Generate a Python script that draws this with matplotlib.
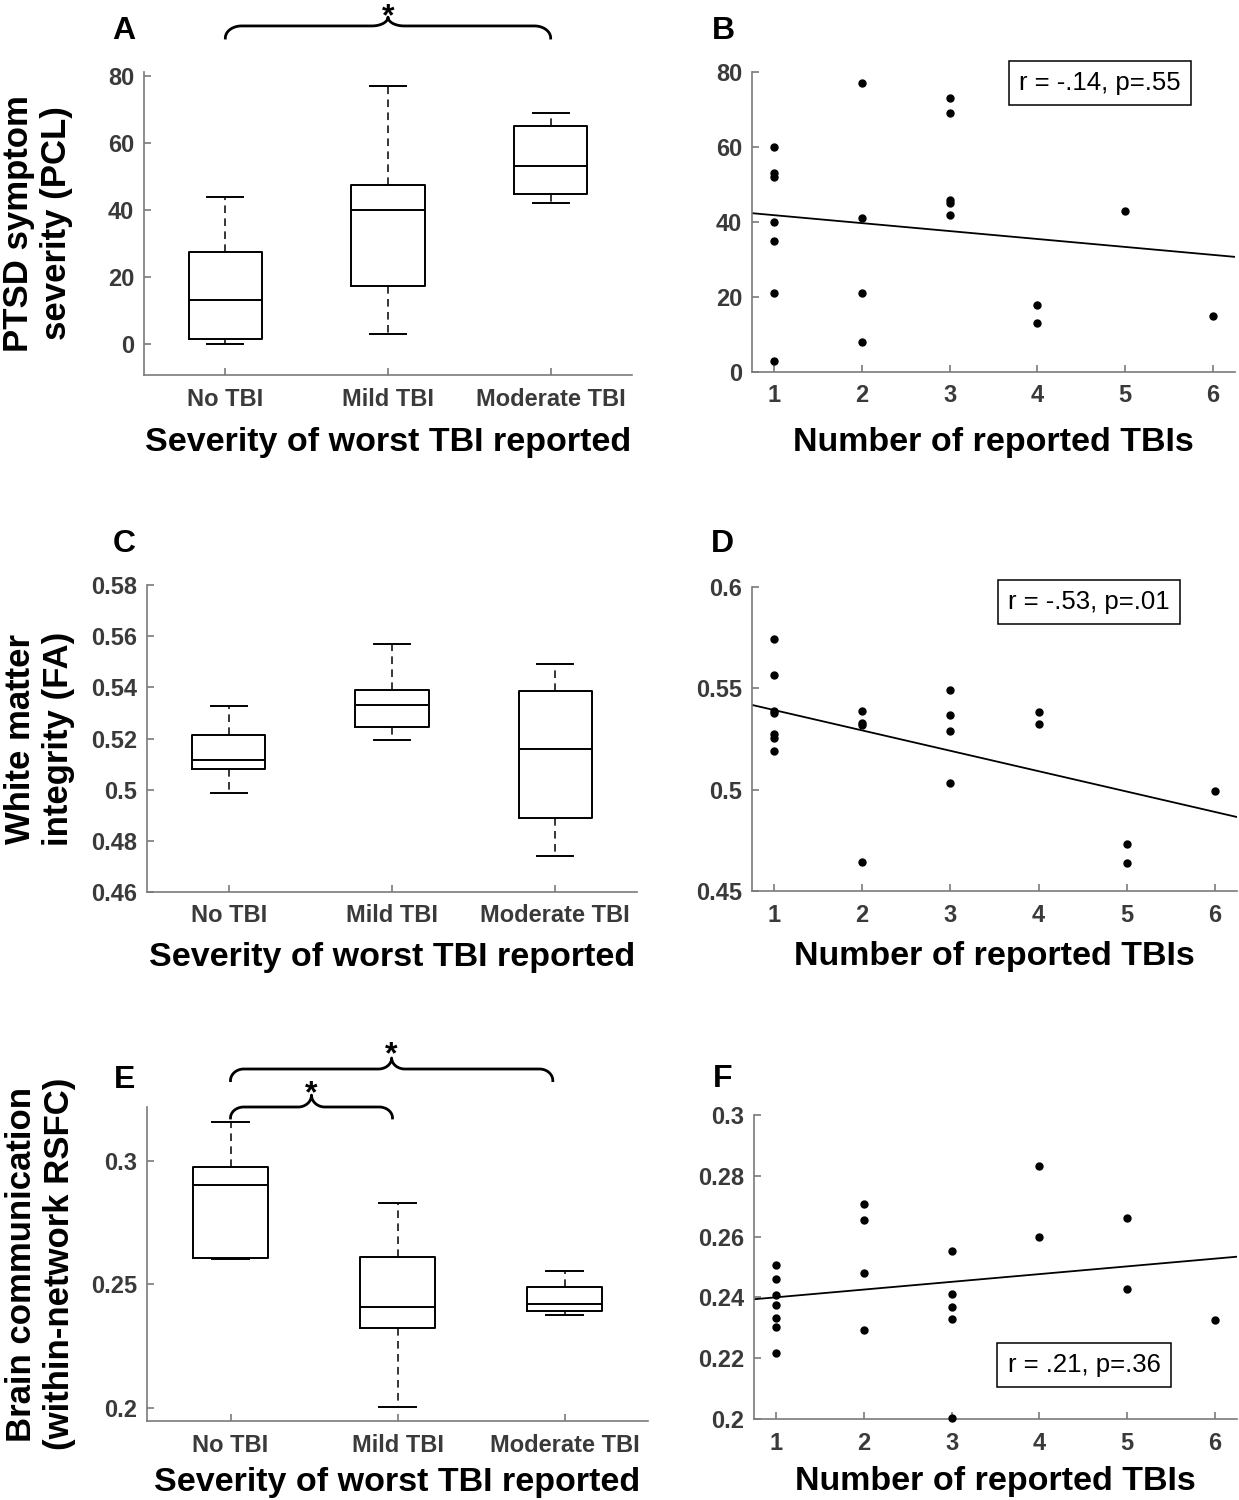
import numpy as np
import matplotlib
matplotlib.use("Agg")
import matplotlib.pyplot as plt
from matplotlib.ticker import FormatStrFormatter
from matplotlib.transforms import blended_transform_factory

plt.rcParams["font.family"] = ["Liberation Sans", "DejaVu Sans"]

groups = ["No TBI", "Mild TBI", "Moderate TBI"]

# box plot summaries
pcl_q1 = [1.6, 17.3, 44.8]
pcl_med = [13.1, 40.0, 53.0]
pcl_q3 = [27.5, 47.6, 65.0]
pcl_lo = [0.0, 3.0, 42.0]
pcl_hi = [44.0, 77.0, 69.0]

fa_q1 = [0.508, 0.5243, 0.4889]
fa_med = [0.5115, 0.5329, 0.5158]
fa_q3 = [0.5214, 0.539, 0.5386]
fa_lo = [0.4987, 0.5196, 0.4739]
fa_hi = [0.5327, 0.557, 0.5493]

rsfc_q1 = [0.2607, 0.2322, 0.2393]
rsfc_med = [0.2904, 0.2408, 0.2419]
rsfc_q3 = [0.2976, 0.2611, 0.2489]
rsfc_lo = [0.2601, 0.2003, 0.2377]
rsfc_hi = [0.3159, 0.283, 0.2553]

# scatter data: number of TBIs vs measure
n_tbi_b = [1, 1, 1, 1, 1, 1, 1, 2, 2, 2, 2, 3, 3, 3, 3, 3, 4, 4, 5, 6]
pcl_b = [60, 53, 52, 40, 35, 21, 3, 77, 41, 21, 8, 73, 69, 46, 45, 42, 18, 13, 43, 15]

n_tbi_d = [1, 1, 1, 1, 1, 1, 1, 2, 2, 2, 2, 3, 3, 3, 3, 4, 4, 5, 5, 6]
fa_d = [0.5743, 0.5568, 0.539, 0.538, 0.5277, 0.5254, 0.5191,
        0.539, 0.533, 0.5317, 0.4644,
        0.549, 0.5368, 0.5289, 0.5035,
        0.5385, 0.5325, 0.4734, 0.4639, 0.4992]

n_tbi_f = [1, 1, 1, 1, 1, 1, 1, 2, 2, 2, 2, 3, 3, 3, 3, 3, 4, 4, 5, 5, 6]
rsfc_f = [0.2508, 0.2461, 0.2407, 0.2376, 0.2332, 0.2303, 0.2218,
          0.2708, 0.2655, 0.2481, 0.2292,
          0.2552, 0.2411, 0.2367, 0.2330, 0.2002,
          0.2831, 0.2598, 0.2661, 0.2427, 0.2326]

stats_text = ["r = -.14, p=.55", "r = -.53, p=.01", "r = .21, p=.36"]

W, H = 1239, 1500
fig = plt.figure(figsize=(W / 100, H / 100), dpi=100)

GRAY = "#7a7a7a"
TICKC = "#3a3a3a"


def px_axes(l, t, r, b):
    return fig.add_axes([l / W, 1 - b / H, (r - l) / W, (b - t) / H])


def style(ax):
    for s in ["top", "right"]:
        ax.spines[s].set_visible(False)
    for s in ["left", "bottom"]:
        ax.spines[s].set_color(GRAY)
        ax.spines[s].set_linewidth(1.2)
    ax.tick_params(direction="in", length=5, width=1.2, color=GRAY,
                   labelsize=17, labelcolor=TICKC)
    ax.tick_params(axis="x", pad=9)
    ax.tick_params(axis="y", pad=7)
    for lab in ax.get_xticklabels() + ax.get_yticklabels():
        lab.set_fontweight("bold")


def boxes(ax, q1, med, q3, lo, hi):
    st = []
    for i in range(len(groups)):
        st.append(dict(q1=q1[i], med=med[i], q3=q3[i], whislo=lo[i],
                       whishi=hi[i], fliers=[], label=groups[i]))
    ax.bxp(st, positions=[1, 2, 3], widths=0.45, capwidths=0.22,
           showfliers=False,
           boxprops=dict(color="black", lw=1.4),
           medianprops=dict(color="black", lw=1.4),
           whiskerprops=dict(color="black", lw=1.1, linestyle=(0, (5, 3.5))),
           capprops=dict(color="black", lw=1.4))
    ax.set_xlim(0.5, 3.5)
    ax.set_xticks([1, 2, 3])
    ax.set_xticklabels(groups)


def scatter(ax, x, y, ylim, yticks, txt, txt_xy):
    ax.plot(x, y, "o", color="black", ms=5, clip_on=False, zorder=3)
    ax.set_xlim(0.75, 6.25)
    ax.set_ylim(*ylim)
    slope, icpt = np.polyfit(x, y, 1)
    xl = np.array(ax.get_xlim())
    ax.plot(xl, slope * xl + icpt, color="black", lw=1.3)
    ax.set_xticks([1, 2, 3, 4, 5, 6])
    ax.set_yticks(yticks)
    ax.yaxis.set_major_formatter(FormatStrFormatter("%g"))
    fig.text(txt_xy[0] / W, 1 - txt_xy[1] / H, txt, fontsize=18.5,
             ha="center", va="center",
             bbox=dict(boxstyle="square,pad=0.4", fc="white", ec="black", lw=1.1))


def brace(ax, x1, x2, y_end, y_mid, y_peak, star_dy, r=0.08):
    tr = blended_transform_factory(ax.transData, ax.transAxes)
    xm = (x1 + x2) / 2
    t1 = np.linspace(np.pi, np.pi / 2, 30)
    xa = x1 + r + r * np.cos(t1)
    ya = y_end + (y_mid - y_end) * np.sin(t1)
    t2 = np.linspace(-np.pi / 2, 0, 30)
    xb = xm - r + r * np.cos(t2)
    yb = y_peak + (y_peak - y_mid) * np.sin(t2)
    xs = np.concatenate([xa, xb])
    ys = np.concatenate([ya, yb])
    xs_full = np.concatenate([xs, (2 * xm - xs)[::-1]])
    ys_full = np.concatenate([ys, ys[::-1]])
    ax.plot(xs_full, ys_full, color="black", lw=2.0, transform=tr, clip_on=False)
    ax.text(xm, y_peak + star_dy, "*", transform=tr, ha="center", va="baseline",
            fontsize=23, fontweight="bold")


def label_x(ax, text, y):
    ax.set_xlabel(text, fontsize=24.5, fontweight="bold", color="black")
    ax.xaxis.set_label_coords(0.5, y)


def label_y(ax, text, x):
    ax.set_ylabel(text, fontsize=25, fontweight="bold", color="black",
                  linespacing=1.2)
    ax.yaxis.set_label_coords(x, 0.5)


# Panel A
axA = px_axes(144, 72, 632, 375)
boxes(axA, pcl_q1, pcl_med, pcl_q3, pcl_lo, pcl_hi)
axA.set_ylim(-9.25, 81.2)
axA.set_yticks([0, 20, 40, 60, 80])
style(axA)
label_x(axA, "Severity of worst TBI reported", -0.172)
label_y(axA, "PTSD symptom\nseverity (PCL)", -0.146)
brace(axA, 1, 3, 1.112, 1.152, 1.181, -0.028, r=0.1)

# Panel B
axB = px_axes(752, 72, 1235, 372)
scatter(axB, n_tbi_b, pcl_b, (0, 80), [0, 20, 40, 60, 80], stats_text[0], (1100, 83))
style(axB)
label_x(axB, "Number of reported TBIs", -0.182)

# Panel C
axC = px_axes(147, 585, 637, 892)
boxes(axC, fa_q1, fa_med, fa_q3, fa_lo, fa_hi)
axC.set_ylim(0.46, 0.58)
axC.set_yticks(np.round(np.arange(0.46, 0.581, 0.02), 2))
axC.yaxis.set_major_formatter(FormatStrFormatter("%g"))
style(axC)
label_x(axC, "Severity of worst TBI reported", -0.163)
label_y(axC, "White matter\nintegrity (FA)", -0.146)

# Panel D
axD = px_axes(752, 587, 1237, 891)
scatter(axD, n_tbi_d, fa_d, (0.45, 0.6), [0.45, 0.5, 0.55, 0.6], stats_text[1], (1089, 602))
style(axD)
label_x(axD, "Number of reported TBIs", -0.166)

# Panel E
axE = px_axes(147, 1107, 648, 1421)
boxes(axE, rsfc_q1, rsfc_med, rsfc_q3, rsfc_lo, rsfc_hi)
axE.set_ylim(0.1947, 0.3218)
axE.set_yticks([0.2, 0.25, 0.3])
axE.yaxis.set_major_formatter(FormatStrFormatter("%g"))
style(axE)
label_x(axE, "Severity of worst TBI reported", -0.147)
label_y(axE, "Brain communication\n(within-network RSFC)", -0.141)
brace(axE, 1, 2.93, 1.084, 1.121, 1.156, -0.018)
brace(axE, 1, 1.97, 0.965, 1.0, 1.038, -0.024)

# Panel F
axF = px_axes(754, 1115, 1237, 1419)
scatter(axF, n_tbi_f, rsfc_f, (0.2, 0.3), np.round(np.arange(0.2, 0.301, 0.02), 2),
        stats_text[2], (1084, 1365))
style(axF)
label_x(axF, "Number of reported TBIs", -0.156)

# panel letters
for letter, (lx, ly) in zip("ABCDEF", [(124, 39), (723, 39), (124, 552),
                                       (722, 552), (125, 1088), (723, 1087)]):
    fig.text(lx / W, 1 - ly / H, letter, fontsize=23, fontweight="bold",
             ha="center", va="baseline")

fig.savefig("out.png", dpi=100)
